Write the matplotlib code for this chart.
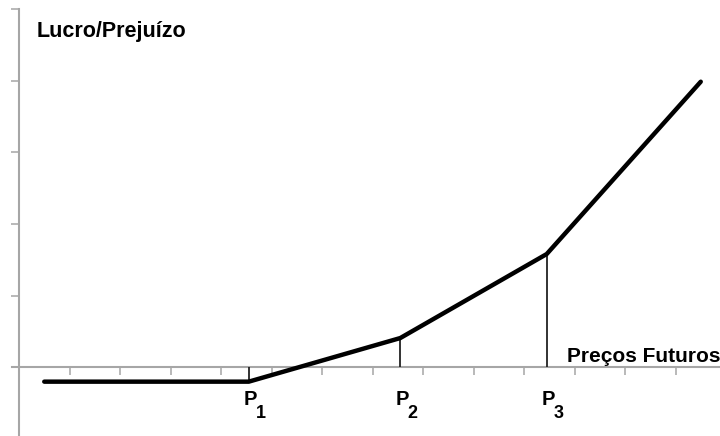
import matplotlib
matplotlib.use("Agg")
import matplotlib.pyplot as plt

matplotlib.rcParams["font.family"] = ["Liberation Sans", "DejaVu Sans"]

# payoff profile (strike points P1, P2, P3)
prices = [0.5, 4.55, 7.55, 10.45, 13.5]
payoff = [-0.205, -0.205, 0.405, 1.58, 3.99]
strike_x = [4.55, 7.55, 10.45]
strike_y = [-0.205, 0.405, 1.58]
strike_names = ["1", "2", "3"]
x_ticks = list(range(1, 14))
y_ticks = [0, 1, 2, 3, 4, 5]

fig = plt.figure(figsize=(7.2, 4.36), dpi=100)
ax = fig.add_axes([0, 0, 1, 1])
ax.set_xlim(-19 / 50.5, 701 / 50.5)
ax.set_ylim(-69 / 71.5, 367 / 71.5)

axis_gray = "#a6a6a6"
for side in ["top", "right"]:
    ax.spines[side].set_visible(False)
ax.spines["left"].set_position(("data", 0))
ax.spines["bottom"].set_position(("data", 0))
ax.spines["left"].set_bounds(-0.95, 5)
ax.spines["bottom"].set_bounds(-0.14, 14)
for side in ["left", "bottom"]:
    ax.spines[side].set_color(axis_gray)
    ax.spines[side].set_linewidth(1.5)
ax.set_xticks(x_ticks)
ax.set_yticks(y_ticks)
ax.set_xticklabels([])
ax.set_yticklabels([])
ax.tick_params(direction="out", length=5.5, width=1.1, color=axis_gray)

# vertical lines at strikes
ax.vlines(strike_x, 0, strike_y, color="#222222", linewidth=1.3, zorder=3)

# payoff line
ax.plot(prices, payoff, color="black", linewidth=3.2, solid_capstyle="round", zorder=4)

# strike labels
for sx, name in zip(strike_x, strike_names):
    ax.annotate("P", xy=(sx, 0), xytext=(1.2, -27.5), textcoords="offset points",
                ha="center", va="baseline", fontsize=14.5, fontweight="bold")
    ax.annotate(name, xy=(sx, 0), xytext=(4.8, -37), textcoords="offset points",
                ha="left", va="baseline", fontsize=13, fontweight="bold")

fig.text(37 / 720, 1 - 37 / 436, "Lucro/Prejuízo", fontsize=15.5, fontweight="bold",
         ha="left", va="baseline")
fig.text(567 / 720, 1 - 362 / 436, "Preços Futuros", fontsize=15, fontweight="bold",
         ha="left", va="baseline")

fig.savefig("out.png", dpi=100)
